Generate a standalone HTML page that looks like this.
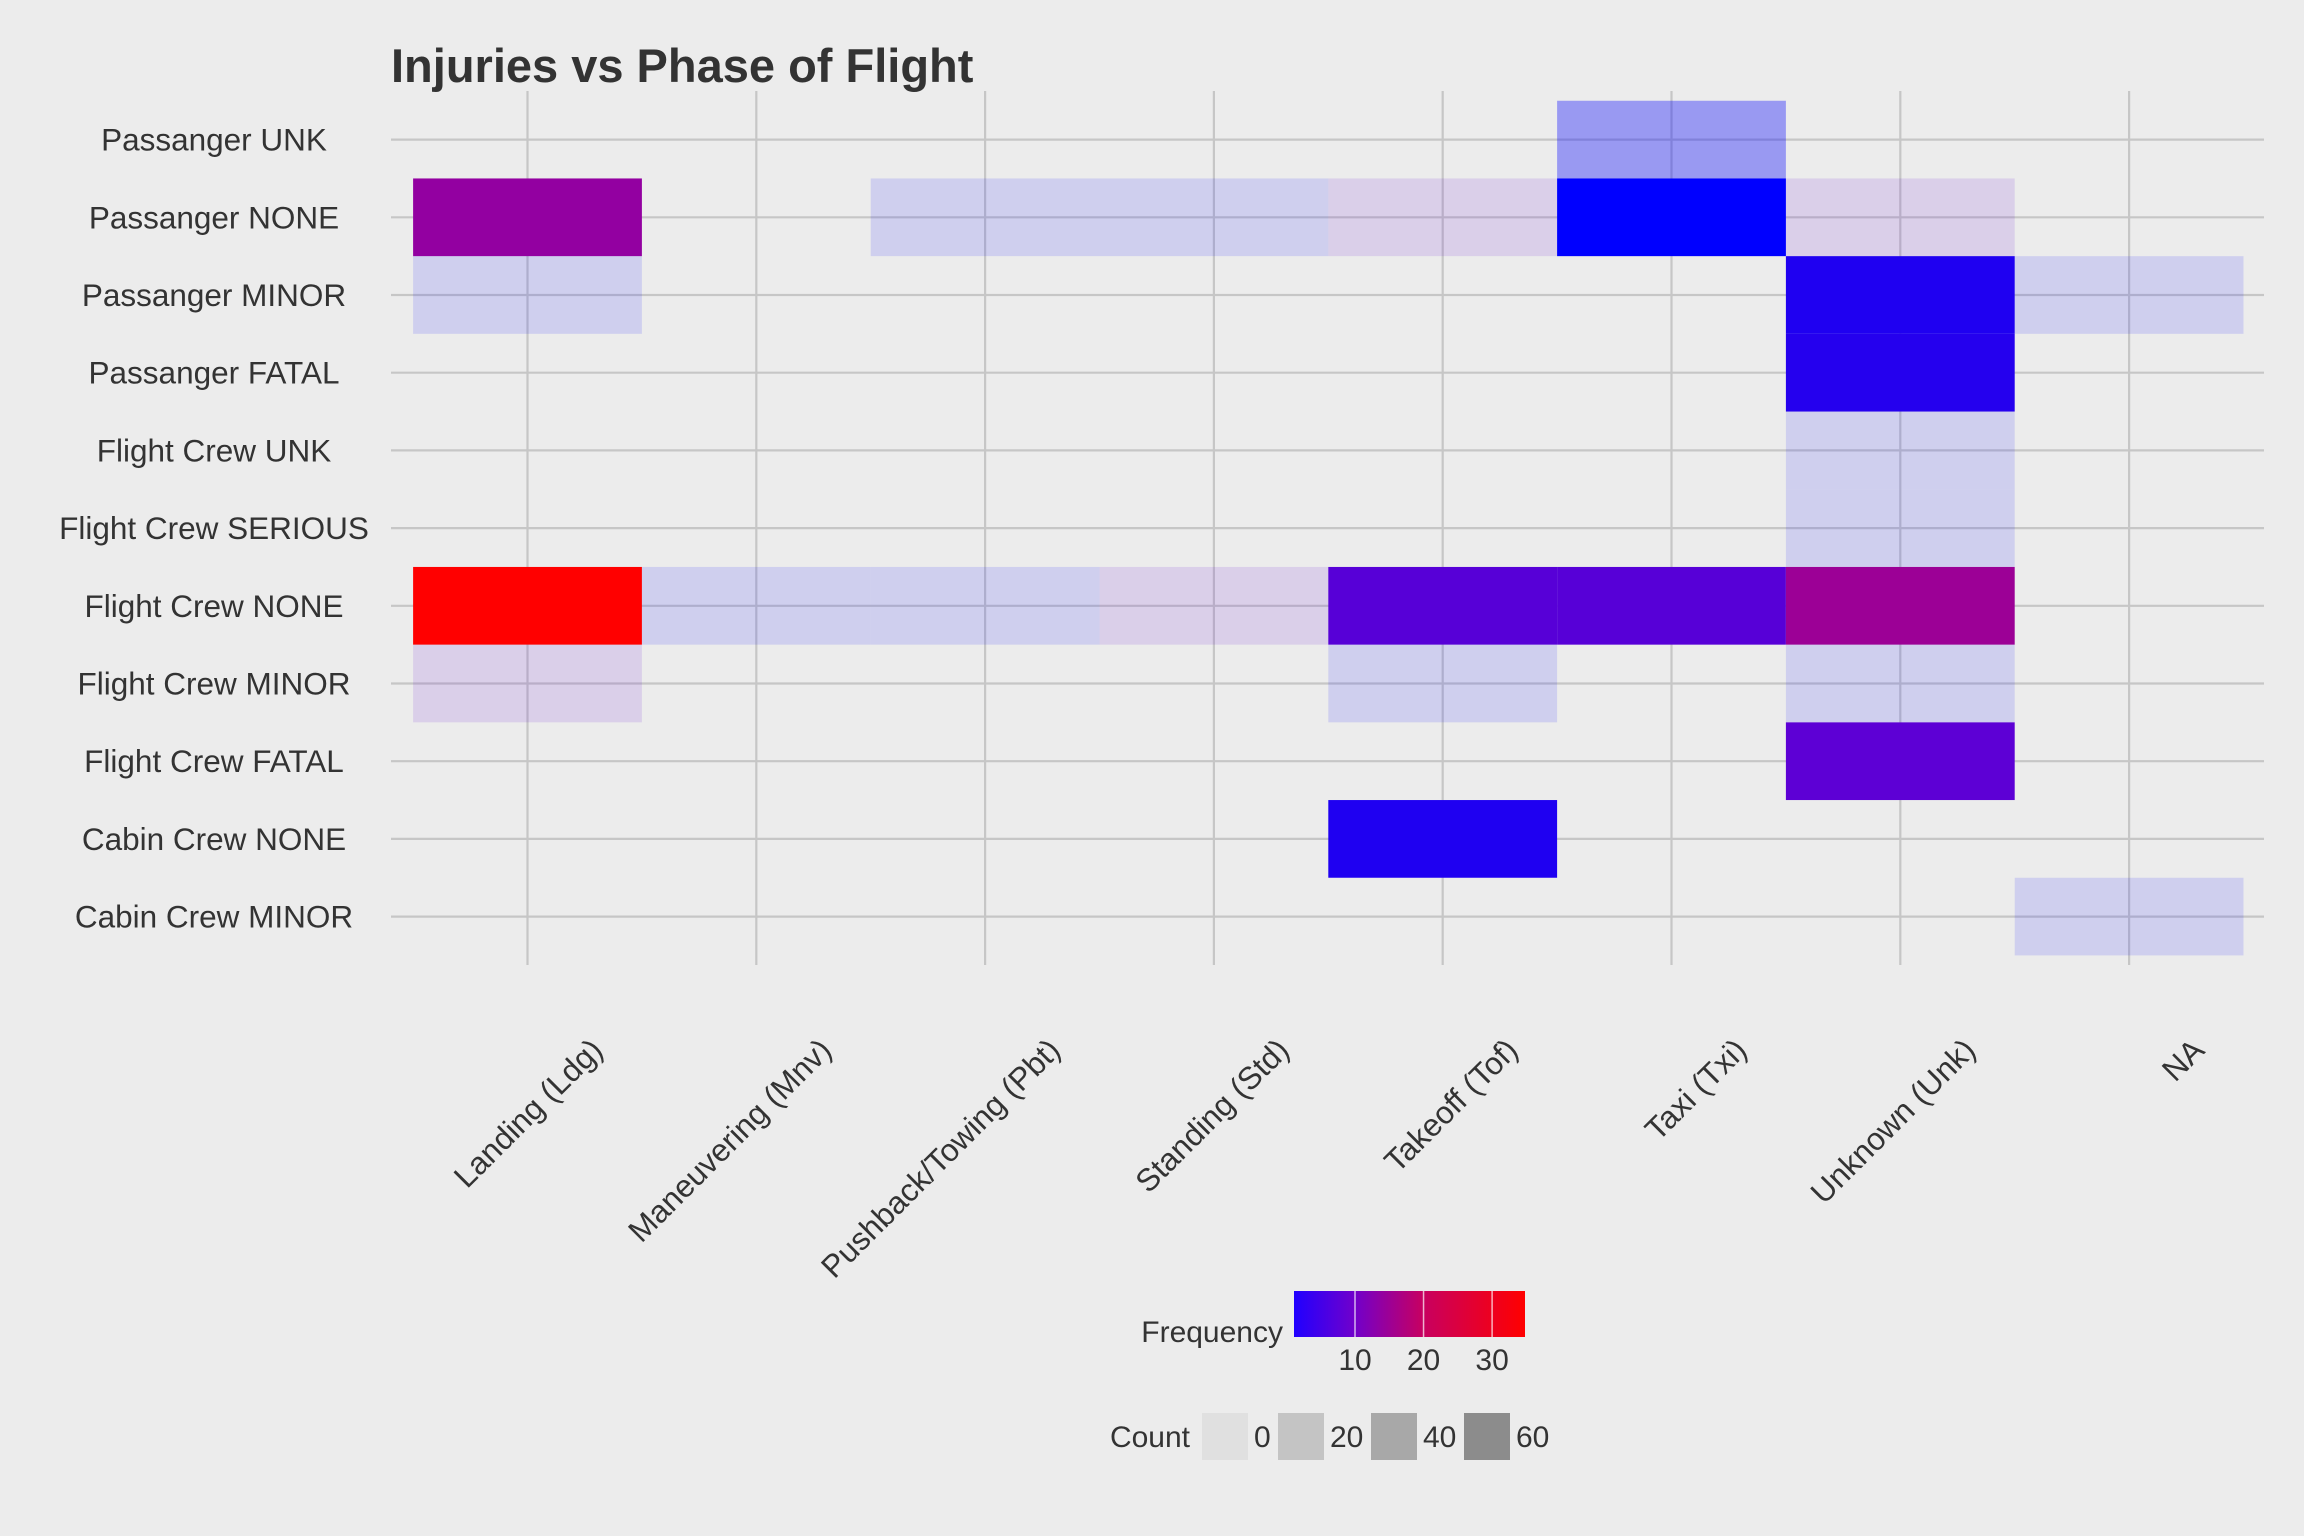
<!DOCTYPE html>
<html><head><meta charset="utf-8"><style>
html,body{margin:0;padding:0;background:#ececec;}
svg{display:block;font-family:"Liberation Sans",sans-serif;}
</style></head><body>
<svg id="chart" width="2304" height="1536" viewBox="0 0 2304 1536">
<rect width="2304" height="1536" fill="#ececec"/>
<text x="391" y="82" font-size="47" font-weight="bold" fill="#333">Injuries vs Phase of Flight</text>
<g id="grid"></g><g id="tiles"></g><g id="ylabels"></g><g id="xlabels"></g>
<g>
<defs><linearGradient id="fg" x1="0" x2="1"><stop offset="0" stop-color="#2000ff"/><stop offset="0.26" stop-color="#7000cc"/><stop offset="0.56" stop-color="#c80060"/><stop offset="1" stop-color="#ff0000"/></linearGradient></defs>
<text x="1283" y="1342" font-size="30" fill="#333" text-anchor="end">Frequency</text>
<rect x="1294" y="1291" width="231" height="46" fill="url(#fg)"/>
<g id="fticks"></g>
</g>
<g>
<text x="1190" y="1447" font-size="30" fill="#333" text-anchor="end">Count</text>
<g id="ckeys"></g>
</g>
</svg>
<script>
const cols = ["Landing (Ldg)","Maneuvering (Mnv)","Pushback/Towing (Pbt)","Standing (Std)","Takeoff (Tof)","Taxi (Txi)","Unknown (Unk)","NA"];
const rows = ["Passanger UNK","Passanger NONE","Passanger MINOR","Passanger FATAL","Flight Crew UNK","Flight Crew SERIOUS","Flight Crew NONE","Flight Crew MINOR","Flight Crew FATAL","Cabin Crew NONE","Cabin Crew MINOR"];
// tiles: [colIndex, rowIndex, frequency, opacity]
const tileCol = [5,0,2,3,4,5,6,0,6,7,6,6,6,0,1,2,3,4,5,6,0,4,6,6,4,7];
const tileRow = [0,1,1,1,1,1,1,2,2,2,3,4,5,6,6,6,6,6,6,6,7,7,7,8,9,10];
const tileFreq = [1,14,1,1,8,1,8,1,3.5,1,4,1,1,35,1,1,8,8,8,15,8,1,1,8.5,3.5,1];
const tileAlpha = [0.35,1,0.12,0.12,0.12,1,0.12,0.12,1,0.12,1,0.12,0.12,1,0.12,0.12,0.12,1,1,1,0.12,0.12,0.12,1,1,0.12];
const freqTicks = [10,20,30];
const countLabels = ["0","20","40","60"];
const countShades = ["#e0e0e0","#c4c4c4","#a8a8a8","#8c8c8c"];

const NS="http://www.w3.org/2000/svg";
const X0=527.5, DX=228.8, Y0=139.6, DY=77.7;
const xs=i=>X0+i*DX, ys=j=>Y0+j*DY;
const FMIN=1.1, FMAX=34.8;
const fx=v=>1294+(v-FMIN)/(FMAX-FMIN)*231;
const stops=[[1,[0,0,255]],[10,[112,0,204]],[20,[200,0,96]],[34.8,[255,0,0]]];
function col(f){f=Math.max(1,Math.min(34.8,f));
 for(let i=0;i<stops.length-1;i++){const a=stops[i],b=stops[i+1];
  if(f<=b[0]){const t=(f-a[0])/(b[0]-a[0]);const c=a[1].map((v,k)=>Math.round(v+(b[1][k]-v)*t));return `rgb(${c[0]},${c[1]},${c[2]})`;}}
 return 'rgb(255,0,0)';}
function mk(tag,attrs,parent){const e=document.createElementNS(NS,tag);for(const k in attrs)e.setAttribute(k,attrs[k]);parent.appendChild(e);return e;}
const grid=document.getElementById('grid');
rows.forEach((r,j)=>{const l=mk('line',{x1:391,x2:2264,y1:ys(j),y2:ys(j),stroke:'#c6c6c6','stroke-width':2.2},grid);

});
cols.forEach((c,i)=>{const l=mk('line',{x1:xs(i),x2:xs(i),y1:91,y2:965,stroke:'#c6c6c6','stroke-width':2.2},grid);

});
const tg=document.getElementById('tiles');
tileCol.forEach((c,k)=>{const r=mk('rect',{x:xs(c)-DX/2,y:ys(tileRow[k])-DY/2,width:DX,height:DY,fill:col(tileFreq[k]),'fill-opacity':tileAlpha[k]},tg);

});
const yl=document.getElementById('ylabels');
rows.forEach((r,j)=>{const t=mk('text',{x:214,y:ys(j)+11,'font-size':31.5,fill:'#333','text-anchor':'middle'},yl);t.textContent=r;

});
const xl=document.getElementById('xlabels');
cols.forEach((c,i)=>{const ex=xs(i)+77, ey=1052;
const t=mk('text',{x:ex,y:ey,'font-size':31.5,fill:'#333','text-anchor':'end',transform:`rotate(-45 ${ex} ${ey})`},xl);t.textContent=c;

});
const ft=document.getElementById('fticks');
freqTicks.forEach(v=>{const l=mk('line',{x1:fx(v),x2:fx(v),y1:1291,y2:1337,stroke:'#fff','stroke-opacity':0.7,'stroke-width':1.5},ft);


const t=mk('text',{x:fx(v),y:1370,'font-size':30,fill:'#333','text-anchor':'middle'},ft);t.textContent=v;

});
const ck=document.getElementById('ckeys');
const kx=[1202,1278,1371,1464];
countLabels.forEach((lab,i)=>{const r=mk('rect',{x:kx[i],y:1413,width:46,height:47,fill:countShades[i]},ck);


const t=mk('text',{x:kx[i]+52,y:1447,'font-size':30,fill:'#333'},ck);t.textContent=lab;

});
</script>
</body></html>
